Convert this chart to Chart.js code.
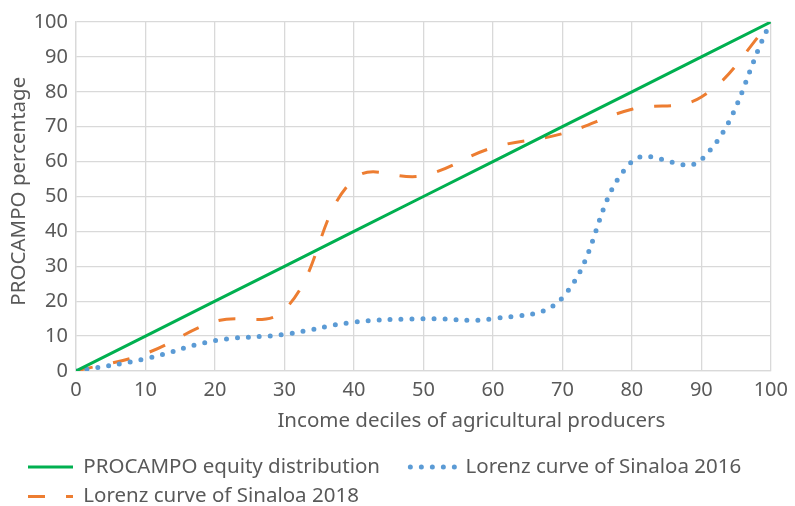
<!DOCTYPE html>
<html lang="en">
<head>
  <meta charset="UTF-8">
  <title>PROCAMPO Lorenz curves</title>
  <style>
    body {
      margin: 0;
      padding: 0;
      background-color: #fff;
    }
  </style>
</head>
<body>
  <canvas id="myChart" width="795" height="506"></canvas>
  <script src="https://cdn.jsdelivr.net/npm/chart.js"></script>
  <script>
    // deciles of agricultural producers (x)
    var deciles = [0, 10, 20, 30, 40, 50, 60, 70, 80, 90, 100];
    // PROCAMPO percentage (y)
    var equity = [0, 10, 20, 30, 40, 50, 60, 70, 80, 90, 100];
    var sinaloa2016 = [0, 3.5, 8.7, 10.5, 14, 15, 15, 21, 60, 60.5, 100];
    var sinaloa2018 = [0, 5, 14.2, 17.5, 55, 56, 64, 68, 75, 78.5, 100];

    var seriesNames = [
      'PROCAMPO equity distribution',
      'Lorenz curve of Sinaloa 2016',
      'Lorenz curve of Sinaloa 2018'
    ];

    var textColor = '#595959';
    var gridColor = '#d9d9d9';
    var fontFamily = '"Noto Sans", sans-serif';

    function toPoints(values) {
      return deciles.map(function(d, i) {
        return { x: d, y: values[i] };
      });
    }

    var ctx = document.getElementById('myChart').getContext('2d');

    var myChart = new Chart(ctx, {
      type: 'line',
      data: {
        datasets: [{
          label: seriesNames[0],
          data: toPoints(equity),
          borderColor: '#00b050',
          backgroundColor: '#00b050',
          borderWidth: 3,
          tension: 0
        }, {
          label: seriesNames[1],
          data: toPoints(sinaloa2016),
          borderColor: '#5b9bd5',
          backgroundColor: '#5b9bd5',
          borderWidth: 5,
          borderDash: [0, 11],
          borderCapStyle: 'round',
          tension: 0.4
        }, {
          label: seriesNames[2],
          data: toPoints(sinaloa2018),
          borderColor: '#ed7d31',
          backgroundColor: '#ed7d31',
          borderWidth: 3,
          borderDash: [17, 21],
          tension: 0.4
        }]
      },
      options: {
        responsive: false,
        animation: false,
        devicePixelRatio: 1,
        layout: {
          padding: { left: 19, right: 24, top: 22, bottom: -10.75 }
        },
        elements: {
          point: { radius: 0 }
        },
        scales: {
          x: {
            type: 'linear',
            min: 0,
            max: 100,
            afterFit: function(scale) { scale.height = 76.75; },
            ticks: {
              stepSize: 10,
              padding: 7,
              color: textColor,
              font: { family: fontFamily, size: 20 }
            },
            grid: { color: gridColor, lineWidth: 1.3, drawTicks: false },
            border: { color: gridColor, width: 1.3 },
            title: {
              display: true,
              // the original title sits right of the plot centre
              text: ' '.repeat(18) + 'Income deciles of agricultural producers',
              color: textColor,
              font: { family: fontFamily, size: 20.5 },
              padding: { top: 0, bottom: 14 }
            }
          },
          y: {
            min: 0,
            max: 100,
            afterFit: function(scale) { scale.width = 57; },
            ticks: {
              stepSize: 10,
              padding: 8,
              color: textColor,
              font: { family: fontFamily, size: 20 }
            },
            grid: { color: gridColor, lineWidth: 1.3, drawTicks: false },
            border: { color: gridColor, width: 1.3 },
            title: {
              display: true,
              text: '  PROCAMPO percentage',
              color: textColor,
              font: { family: fontFamily, size: 20.5 },
              padding: { top: -11.8, bottom: 0 }
            }
          }
        },
        plugins: {
          tooltip: { enabled: false },
          legend: {
            position: 'bottom',
            align: 'start',
            labels: {
              usePointStyle: true,
              pointStyle: 'line',
              pointStyleWidth: 45,
              padding: 9,
              color: textColor,
              font: { family: fontFamily, size: 20.5 },
              generateLabels: function(chart) {
                var items = Chart.defaults.plugins.legend.labels.generateLabels(chart);
                items.forEach(function(item) {
                  var ds = chart.data.datasets[item.datasetIndex];
                  item.lineDash = ds.borderDash || [];
                  item.lineCap = ds.borderCapStyle || 'butt';
                  item.lineWidth = ds.borderWidth;
                });
                // wider gap after the first entry, as in the original legend
                items[0].text += '    ';
                return items;
              }
            }
          }
        }
      }
    });
  </script>
</body>
</html>
